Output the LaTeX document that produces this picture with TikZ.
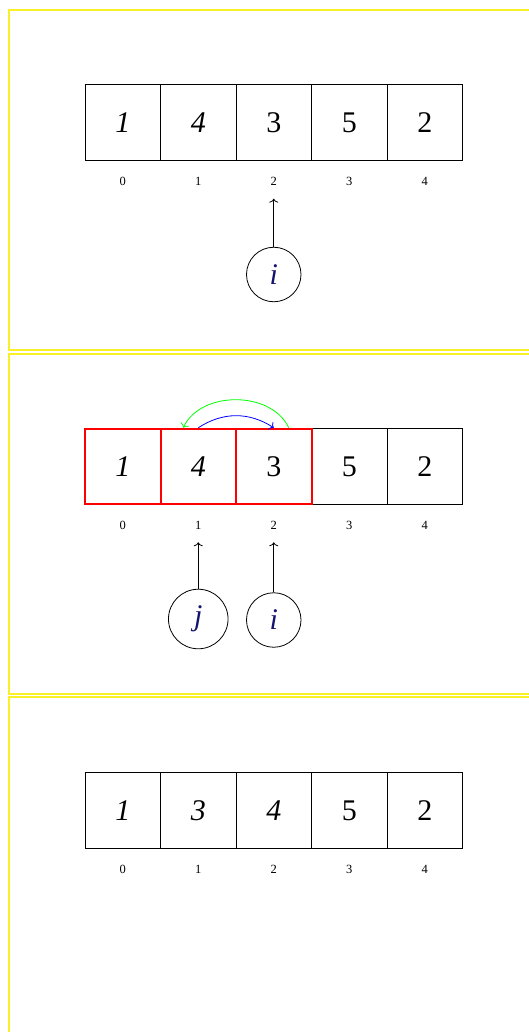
\documentclass[tikz,border=0pt]{standalone}
\usepackage{fontspec}
\setmainfont{Liberation Serif}
\usepackage{xcolor}
\definecolor{tinta}{RGB}{20,20,110}
\definecolor{moldura}{RGB}{250,240,40}
\usetikzlibrary{arrows.meta,positioning,calc}

\begin{document}
\begin{tikzpicture}[x=1pt,y=-1pt,
  celula/.style={draw, minimum size=75.5pt, inner sep=0pt,
    font=\fontsize{30}{32}\selectfont},
  indice/.style={inner sep=0pt, font=\fontsize{12.5}{14}\selectfont,
    below=16pt of #1},
  ponteiro/.style={draw, circle, inner sep=12pt, line width=0.8pt,
    text=tinta, font=\fontsize{30}{32}\selectfont\itshape},
  seta/.style={-{To[length=4pt,width=9pt]}, line width=0.8pt}]
  \useasboundingbox (0,0) rectangle (529,1032);
  \clip (0,0) rectangle (529,1032);
  % molduras
  \foreach \t/\b in {10/350, 354/694, 697/1050}{
    \draw[moldura, line width=1.2pt] (9,\t) rectangle (545,\b);
  }
  % passo 1
  \foreach \k/\txt in {0/{\textit{1}}, 1/{\textit{4}}, 2/3, 3/5, 4/2}{
    \node[celula, line width=0.9pt] (v1-\k) at ({122.75+75.5*\k},122.5) {\txt};
    \node[indice=v1-\k] (ind1-\k) {\k};
  }
  \node[ponteiro] (pi1) at ($(v1-2)+(0,152)$) {i};
  \coordinate (ti1) at ([yshift=-38pt]v1-2.south);
  \draw[seta] (pi1) -- (ti1);
  % passo 2
  \foreach \k/\txt/\cor/\lw in {3/5/black/0.9pt, 4/2/black/0.9pt,
    0/{\textit{1}}/red/2pt, 1/{\textit{4}}/red/2pt, 2/3/red/2pt}{
    \node[celula, draw=\cor, line width=\lw] (v2-\k) at ({122.75+75.5*\k},466.5) {\txt};
    \node[indice=v2-\k] (ind2-\k) {\k};
  }
  \draw[seta, blue] (v2-1.north) to[bend left=33] (v2-2.north);
  \draw[seta, green] ([xshift=15pt]v2-2.north) to[bend right=65] ([xshift=-15pt]v2-1.north);
  \node[ponteiro] (pj2) at ($(v2-1)+(0,152.5)$) {j};
  \node[ponteiro] (pi2) at ($(v2-2)+(0,153.5)$) {i};
  \coordinate (tj2) at ([yshift=-37pt]v2-1.south);
  \coordinate (ti2) at ([yshift=-37pt]v2-2.south);
  \draw[seta] (pj2) -- (tj2);
  \draw[seta] (pi2) -- (ti2);
  % passo 3
  \foreach \k/\txt in {0/{\textit{1}}, 1/{\textit{3}}, 2/{\textit{4}}, 3/5, 4/2}{
    \node[celula, line width=0.9pt] (v3-\k) at ({122.75+75.5*\k},810.5) {\txt};
    \node[indice=v3-\k] (ind3-\k) {\k};
  }
\end{tikzpicture}
\end{document}
